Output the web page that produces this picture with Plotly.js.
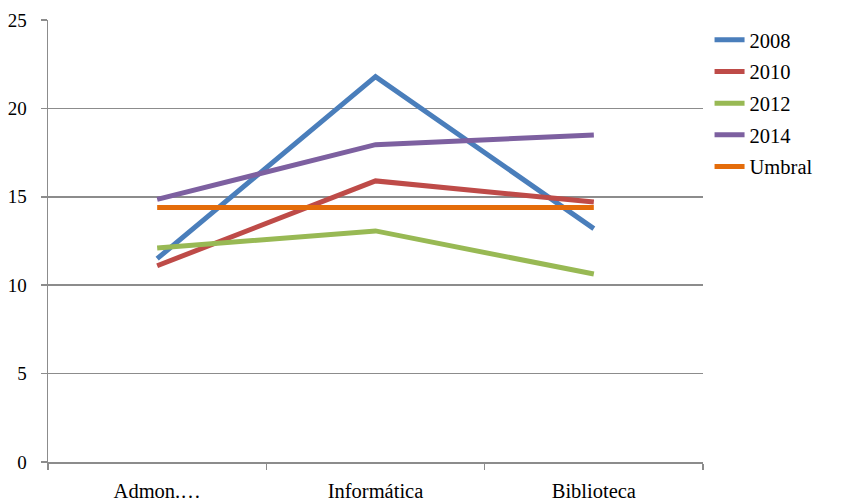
<!DOCTYPE html>
<html>
<head>
<meta charset="utf-8">
<script src="https://cdn.plot.ly/plotly-3.0.1.min.js"></script>
<style>html,body{margin:0;padding:0;background:#fff;}#chart{width:843px;height:504px;}</style>
</head>
<body>
<div id="chart"></div>
<script>
const categories = ["Admon.…", "Informática", "Biblioteca"];
const seriesNames = ["2008", "2010", "2012", "2014", "Umbral"];
const v2008 = [11.5, 21.8, 13.2];
const v2010 = [11.1, 15.9, 14.7];
const v2012 = [12.1, 13.07, 10.63];
const v2014 = [14.85, 17.95, 18.5];
const vUmbral = [14.4, 14.4, 14.4];
const yTicks = [0, 5, 10, 15, 20, 25];

const colors = ["#4a7ebb", "#be4b48", "#98b954", "#7d60a0", "#e46c0a"];
const allValues = [v2008, v2010, v2012, v2014, vUmbral];

const traces = allValues.map((vals, i) => ({
  type: "scatter",
  mode: "lines",
  x: categories,
  y: vals,
  name: seriesNames[i],
  legendgroup: "g" + i,
  line: {color: colors[i], width: 5}
}));

const family = "'Liberation Serif', 'Times New Roman', serif";
const font = {family: family, size: 19, color: "#000"};
const bigFont = {family: family, size: 20.5, color: "#000"};

const layout = {
  width: 843, height: 504,
  margin: {l: 48, r: 140, t: 20, b: 42},
  paper_bgcolor: "#fff", plot_bgcolor: "#fff",
  font: font,
  showlegend: true,
  legend: {
    x: 1.01, xanchor: "left", y: 1.0, yanchor: "top",
    font: bigFont, traceorder: "grouped", tracegroupgap: 2,
    itemwidth: 30
  },
  xaxis: {
    type: "category",
    range: [-0.5, 2.5],
    tickson: "boundaries",
    ticks: "outside", ticklen: 6, tickwidth: 1.5, tickcolor: "#8c8c8c",
    showline: true, linecolor: "#8c8c8c", linewidth: 1.5,
    showgrid: false, zeroline: false,
    ticklabelstandoff: 10,
    tickfont: bigFont
  },
  yaxis: {
    range: [0, 25],
    tickvals: yTicks,
    ticks: "outside", ticklen: 6, tickwidth: 1.5, tickcolor: "#8c8c8c",
    showline: true, linecolor: "#8c8c8c", linewidth: 1.5,
    showgrid: true, gridcolor: "#8c8c8c", gridwidth: 1.5,
    zeroline: false,
    ticklabelstandoff: 10,
    tickfont: font
  }
};

Plotly.newPlot("chart", traces, layout, {displayModeBar: false, staticPlot: true});
</script>
</body>
</html>
